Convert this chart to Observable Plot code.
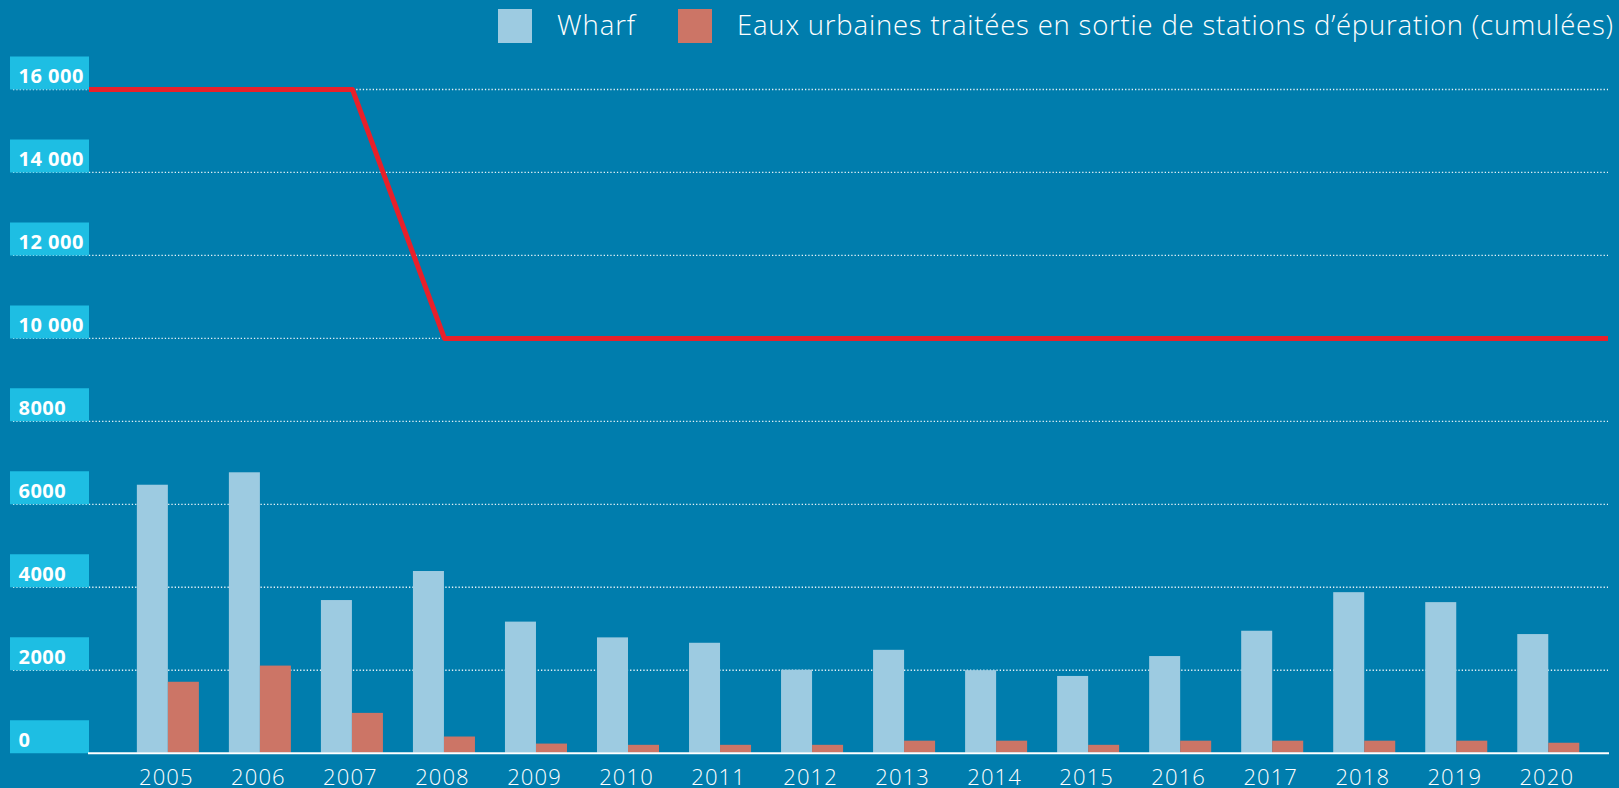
<!DOCTYPE html>
<html><head><meta charset="utf-8">
<script src="https://cdn.jsdelivr.net/npm/d3@7"></script>
<script src="https://cdn.jsdelivr.net/npm/@observablehq/plot@0.6"></script>
<style>
html,body{margin:0;padding:0;background:#007DAD;width:1619px;height:788px;overflow:hidden;}
#legend{position:relative;height:52px;width:1619px;font-family:"Open Sans",Lato,sans-serif;color:#fff;}
.sw{position:absolute;top:9px;width:34px;height:34px;}
.lt{position:absolute;top:7px;font-size:27.5px;line-height:36px;font-weight:300;white-space:nowrap;}
svg{display:block;}
g[aria-label="x-axis tick label"] text{letter-spacing:1.1px;}
g[aria-label="text"] text{letter-spacing:0.5px;}
</style>
</head><body>
<div id="legend"></div>
<div id="chart"></div>
<script>
const years = [2005,2006,2007,2008,2009,2010,2011,2012,2013,2014,2015,2016,2017,2018,2019,2020];
const wharf = [6460,6760,3680,4380,3160,2780,2650,2000,2480,1990,1850,2330,2940,3870,3630,2860];
const eaux  = [1710,2100,960,390,220,190,190,190,290,290,190,290,290,290,290,240];
const limitYears  = [2004, 2007, 2008, 2021];
const limitValues = [16000, 16000, 10000, 10000];
const yTicks = [0,2000,4000,6000,8000,10000,12000,14000,16000];
const yTickLabels = ["0","2000","4000","6000","8000","10 000","12 000","14 000","16 000"];
const seriesNames = ["Wharf","Eaux urbaines traitées en sortie de stations d’épuration (cumulées)"];
const seriesColors = ["#9DCBE1","#CC7566"];
const limitColor = "#E8202A";

const table = years.map((year,i)=>({year, wharf: wharf[i], eaux: eaux[i]}));
const limit = limitYears.map((year,i)=>({year, value: limitValues[i]}));

// legend
const legend = document.getElementById("legend");
const swX = [498, 678], txX = [557, 737], txW = [79, 877];
seriesNames.forEach((name,i)=>{
  const s = document.createElement("div");
  s.className="sw"; s.style.left=swX[i]+"px"; s.style.background=seriesColors[i];
  legend.appendChild(s);
  const t = document.createElement("div");
  t.className="lt"; t.style.left=txX[i]+"px"; t.textContent=name;
  legend.appendChild(t);
  const w = t.getBoundingClientRect().width;
  const n = [...name].length;
  t.style.letterSpacing = ((txW[i]-w)/n).toFixed(2)+"px";
});

const barW = 0.337;
const chart = Plot.plot({
  width: 1619, height: 736,
  marginLeft: 89, marginRight: 11, marginTop: 16.25, marginBottom: 35.3,
  style: {background: "transparent", color: "#fff", fontFamily: "'Open Sans', Lato, sans-serif", overflow: "visible"},
  x: {type: "linear", domain: [2004.143, 2020.649], axis: null},
  y: {domain: [0, 16500], axis: null},
  marks: [
    Plot.ruleY(yTicks.filter(d=>d>0), {y: d=>d, stroke: "#fff", strokeOpacity: 0.9, strokeWidth: 1.3, strokeDasharray: "1.3,2", insetLeft: -76}),
    Plot.ruleY(yTicks, {y: d=>d, stroke: "#1EBEE3", strokeWidth: 33, dy: -16.5, insetLeft: -79, insetRight: 1519}),
    Plot.text(yTicks, {y: d=>d, text: (d,i)=>yTickLabels[i], frameAnchor: "left", dx: -71, dy: -13, textAnchor: "start", lineAnchor: "middle", fill: "#fff", fontWeight: "bold", fontSize: 20}),
    Plot.rect(table, {x1: d=>d.year - barW, x2: d=>d.year, y1: 0, y2: "wharf", fill: seriesColors[0]}),
    Plot.rect(table, {x1: d=>d.year, x2: d=>d.year + barW, y1: 0, y2: "eaux", fill: seriesColors[1]}),
    Plot.ruleY([0], {stroke: "#fff", strokeWidth: 2, insetLeft: -1, insetRight: -1}),
    Plot.line(limit, {x: "year", y: "value", stroke: limitColor, strokeWidth: 5, clip: true}),
    Plot.axisX({ticks: years, tickFormat: d=>String(d), tickSize: 0, tickPadding: 16, fontSize: 22, fontWeight: 300, fill: "#fff", dx: -2, label: null})
  ]
});
document.getElementById("chart").appendChild(chart);
</script>
</body></html>
